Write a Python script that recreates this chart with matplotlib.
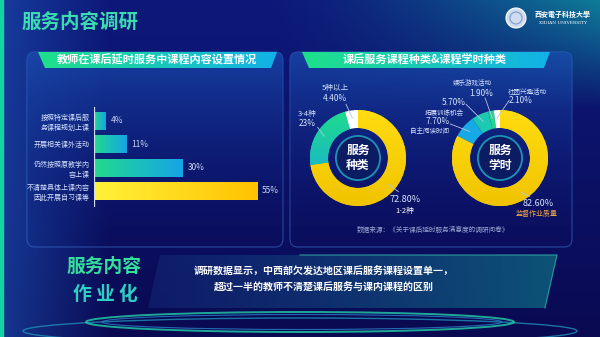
import numpy as np
import matplotlib
matplotlib.use("Agg")
import matplotlib.pyplot as plt
from matplotlib.patches import FancyBboxPatch, Polygon, Circle, Ellipse, Rectangle
from matplotlib.colors import to_rgb

plt.rcParams["font.family"] = ["Noto Sans CJK SC", "DejaVu Sans"]

W, H = 600, 337

# ---------------------------------------------------------------------------
# data
# ---------------------------------------------------------------------------
bar_labels = ["按照特定课后服\n务课程规划上课", "开展相关课外活动",
              "仍然按照原教学内\n容上课", "不清楚具体上课内容\n因此开展自习课等"]
bar_values = [4, 11, 30, 55]

kind_labels = ["1-2种", "3-4种", "5种以上"]
kind_values = [72.8, 23.0, 4.4]

hour_labels = ["监督作业质量", "自主阅读时间", "拓展训练机会", "娱乐游戏活动", "社团兴趣活动"]
hour_values = [82.6, 7.7, 5.7, 1.9, 2.1]

YELLOW = "#f7d300"
TXT = "#d6e2ff"


def gradient(c0, c1, n=256, a0=1.0, a1=1.0, vertical=False):
    t = np.linspace(0, 1, n)[:, None]
    rgb = np.array(to_rgb(c0)) * (1 - t) + np.array(to_rgb(c1)) * t
    alpha = a0 * (1 - t) + a1 * t
    arr = np.concatenate([rgb, alpha], axis=1)
    return arr[:, None, :] if vertical else arr[None, :, :]


def grad_patch(ax, patch, c0, c1, extent, vertical=False, a0=1.0, a1=1.0, z=1):
    ax.add_patch(patch)
    im = ax.imshow(gradient(c0, c1, a0=a0, a1=a1, vertical=vertical), extent=extent,
                   aspect="auto", interpolation="bilinear", zorder=z)
    im.set_clip_path(patch)
    return im


def px_axes(fig, x0, y0, x1, y1):
    return fig.add_axes([x0 / W, 1 - y1 / H, (x1 - x0) / W, (y1 - y0) / H])


fig = plt.figure(figsize=(6, 3.37), dpi=100)

# ---------------------------------------------------------------------------
# background
# ---------------------------------------------------------------------------
bg = fig.add_axes([0, 0, 1, 1])
yy, xx = np.mgrid[0:H, 0:W]
xn, yn = xx / W, yy / H
top, bot = np.array(to_rgb("#0d197a")), np.array(to_rgb("#0a0a52"))
img = top * (1 - yn[..., None]) + bot * yn[..., None]
w_left = (np.clip(1 - xn / 0.18, 0, 1) * 0.65)[..., None]
img = img * (1 - w_left) + np.array(to_rgb("#1c4fb0")) * w_left
w_teal = (np.clip((xn - 0.45) / 0.55, 0, 1) ** 1.4 * np.clip(1 - yn / 0.32, 0, 1))[..., None]
img = img * (1 - w_teal) + np.array(to_rgb("#0f7d98")) * w_teal
bg.imshow(img, extent=(0, W, H, 0), aspect="auto", zorder=0)
bg.add_patch(Rectangle((0, 0), 3, H, color="#14d4a2", zorder=5))

# title and logo
bg.text(22, 22, "服务内容调研", fontsize=14, fontweight="bold", color="#3bdcb0",
        ha="left", va="center", zorder=5)
bg.add_patch(Circle((516, 18), 10, fc="#cfdcef", ec="white", lw=0.8, zorder=5))
bg.add_patch(Circle((516, 18), 6, fc="none", ec="#7f9cc8", lw=0.8, zorder=6))
bg.text(563, 14, "西安電子科技大學", fontsize=5, color="white", ha="center", va="center",
        fontweight="bold", zorder=5)
bg.text(563, 23, "XIDIAN UNIVERSITY", fontsize=3.2, color="white", ha="center",
        va="center", family="DejaVu Serif", zorder=5)

# panels
for x0, x1 in [(27, 283), (290, 572)]:
    p = FancyBboxPatch((x0, 52), x1 - x0, 195, boxstyle="round,pad=0,rounding_size=8",
                       fc="none", ec="#3a78d0", lw=0.8, alpha=0.55, zorder=1)
    grad_patch(bg, p, "#1a4db0", "#0c1670", (x0, x1, 247, 52), vertical=True,
               a0=0.75, a1=0.0, z=1)

# header banners
banners = [([(38, 52), (277, 52), (271, 68), (45, 68)], "教师在课后延时服务中课程内容设置情况", 157),
           ([(302, 52), (550, 52), (544, 68), (309, 68)], "课后服务课程种类&课程学时种类", 425)]
for pts, txt, cx in banners:
    xs = [p[0] for p in pts]
    poly = Polygon(pts, closed=True, fc="none", ec="none", zorder=2)
    grad_patch(bg, poly, "#1fe08a", "#12b2e8", (min(xs), max(xs), 68, 52), z=2)
    bg.text(cx, 60, txt, fontsize=8, fontweight="bold", color="white", ha="center",
            va="center", zorder=3)

bg.text(433, 230, "数据来源：《关于课后延时服务满意度的调研问卷》", fontsize=4.8,
        color="#9ba7cf", ha="center", va="center", zorder=3)

# bottom banner
band = Polygon([(160, 255), (557, 255), (545, 308), (148, 308)], closed=True,
               fc="none", ec="none", zorder=2)
grad_patch(bg, band, "#14307e", "#0e5c7a", (148, 557, 308, 255), a0=0.45, a1=0.9, z=2)
bg.plot([300, 557, 545], [255, 255, 308], color="#2fb6a8", lw=0.8, alpha=0.8, zorder=3)
bg.text(324, 272, "调研数据显示，中西部欠发达地区课后服务课程设置单一，", fontsize=7.2,
        fontweight="bold", color="white", ha="center", va="center", zorder=4)
bg.text(324, 288, "超过一半的教师不清楚课后服务与课内课程的区别", fontsize=7.2,
        fontweight="bold", color="white", ha="center", va="center", zorder=4)
bg.text(104, 266, "服务内容", fontsize=13.5, color="#33e09c", ha="center", va="center",
        fontweight="bold", zorder=4)
bg.text(105, 294, "作 业 化", fontsize=13.5, color="#2fd0c4", ha="center", va="center",
        fontweight="bold", zorder=4)

# rings at the bottom
bg.add_patch(Ellipse((300, 331), 554, 26, fc="none", ec="#1f8fb8", lw=1.0, alpha=0.8, zorder=2))
bg.add_patch(Ellipse((300, 322), 428, 20, fc="none", ec="#22c4a4", lw=1.4, alpha=0.85, zorder=2))
bg.add_patch(Ellipse((302, 322), 400, 15, fc="none", ec="#2a7fc8", lw=0.8, alpha=0.8, zorder=2))

bg.set_xlim(0, W)
bg.set_ylim(H, 0)
bg.axis("off")

# ---------------------------------------------------------------------------
# bar chart
# ---------------------------------------------------------------------------
ax = px_axes(fig, 94, 107, 272, 207)
ypos = np.arange(len(bar_values))
bars = ax.barh(ypos, bar_values, height=0.77, color="none")
for i, (b, v) in enumerate(zip(bars, bar_values)):
    c0, c1 = ("#fff23a", "#ffc200") if i == len(bar_values) - 1 else ("#22da8c", "#16a4e8")
    x0, y0 = b.get_x(), b.get_y()
    im = ax.imshow(gradient(c0, c1), extent=(x0, x0 + b.get_width(), y0 + b.get_height(), y0),
                   aspect="auto", interpolation="bilinear", zorder=2)
    im.set_clip_path(b)
    ax.text(v + 1.7, i, f"{v}%", va="center", ha="left", fontsize=6, color="#c8d6f4")
ax.axvline(0, color="#d0dcf4", lw=0.9, zorder=3)
ax.set_xlim(0, 60)
ax.set_ylim(3.69, -0.6)
ax.set_yticks(ypos)
ax.set_yticklabels(bar_labels, fontsize=5, color=TXT, linespacing=1.35)
ax.tick_params(axis="y", length=0, pad=3)
ax.set_xticks([])
for s in ax.spines.values():
    s.set_visible(False)
ax.patch.set_alpha(0)

# ---------------------------------------------------------------------------
# donuts
# ---------------------------------------------------------------------------
R = 48


def donut(cx, cy, values, colors, grads, center_txt, labels):
    dax = px_axes(fig, cx - 1.6 * R, cy - 1.6 * R, cx + 1.6 * R, cy + 1.6 * R)
    wedges, _ = dax.pie(values, startangle=90, counterclock=False, radius=1, colors=colors,
                        wedgeprops=dict(width=0.375, edgecolor="none"))
    for w, g in zip(wedges, grads):
        if g is None:
            continue
        im = dax.imshow(gradient(g[0], g[1], vertical=True), extent=(-1, 1, -1, 1),
                        aspect="auto", interpolation="bilinear", zorder=2)
        im.set_clip_path(w)
    dax.add_patch(Circle((0, 0), 0.46, fc="#0c1c62", ec="#1c94b4", lw=1.3, zorder=3))
    dax.text(0, 0, center_txt, fontsize=8.5, fontweight="bold", color="white",
             ha="center", va="center", linespacing=1.25, zorder=4)
    for w, (lines, end) in zip(wedges, labels):
        mid = np.deg2rad((w.theta1 + w.theta2) / 2)
        dax.plot([0.84 * np.cos(mid), end[0]], [0.84 * np.sin(mid), end[1]],
                 color="#b8c4e4", lw=0.6, zorder=4)
        for txt, (tx, ty), fs, col in lines:
            dax.text(tx, ty, txt, fontsize=fs, color=col, ha="center", va="center", zorder=4)
    dax.set_xlim(-1.6, 1.6)
    dax.set_ylim(-1.6, 1.6)
    dax.set_aspect("equal")
    dax.axis("off")


donut(358, 158, kind_values, [YELLOW, "#1cc4b8", "white"],
      [("#ffdc10", "#f0c400"), ("#1fdc8a", "#16a2e8"), None],
      "服务\n种类",
      [([("72.80%", (0.98, -0.86), 6.5, TXT), (kind_labels[0], (0.97, -1.1), 5.5, "white")], (0.84, -0.7)),
       ([(kind_labels[1], (-1.06, 0.92), 5.5, TXT), ("23%", (-1.06, 0.71), 6, TXT)], (-0.84, 0.64)),
       ([(kind_labels[2], (-0.48, 1.46), 5.5, TXT), ("4.40%", (-0.48, 1.24), 6, TXT)], (-0.25, 1.12))])

donut(500, 158, hour_values, [YELLOW, "#17a8e6", "#1ccab2", "#22d68c", "white"],
      [("#ffdc10", "#f0c400"), None, None, None, None],
      "服务\n学时",
      [([("82.60%", (0.79, -0.94), 6.5, TXT), (hour_labels[0], (0.76, -1.17), 5, "#f3a642")], (0.62, -0.8)),
       ([("7.70%", (-1.31, 0.75), 6, TXT), (hour_labels[1], (-1.46, 0.56), 4.7, TXT)], (-1.04, 0.71)),
       ([("5.70%", (-0.96, 1.15), 6, TXT), (hour_labels[2], (-1.17, 0.94), 4.7, TXT)], (-0.71, 1.12)),
       ([(hour_labels[3], (-0.58, 1.56), 4.7, TXT), ("1.90%", (-0.4, 1.35), 6, TXT)], (-0.31, 1.25)),
       ([(hour_labels[4], (0.56, 1.375), 4.7, TXT), ("2.10%", (0.42, 1.19), 6, TXT)], (0.19, 1.2))])

fig.savefig("out.png", dpi=100)
